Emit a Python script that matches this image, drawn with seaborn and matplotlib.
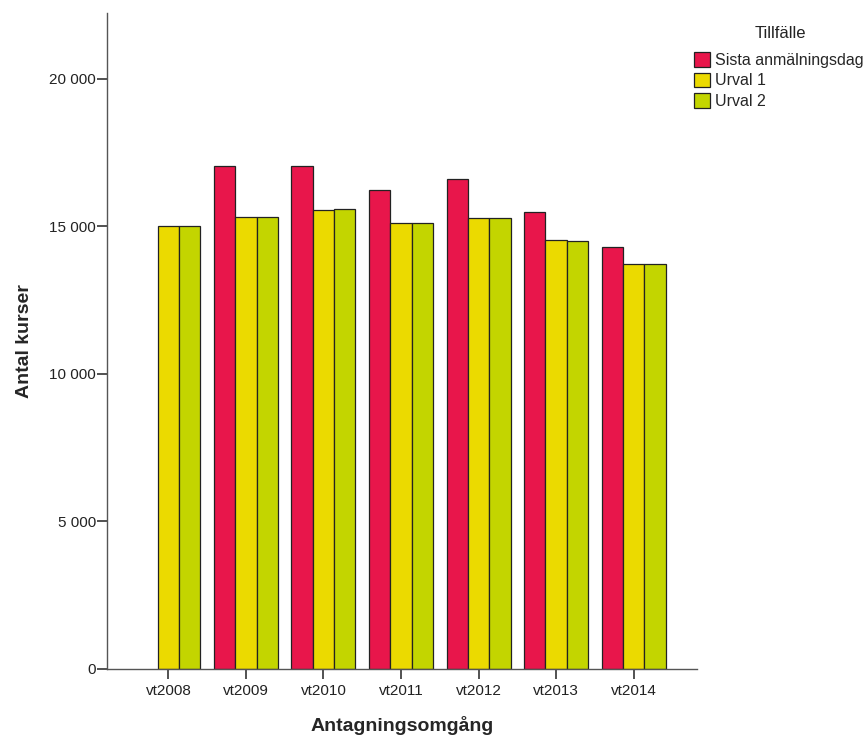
import pandas as pd
import numpy as np
import matplotlib
matplotlib.use('Agg')
import matplotlib.pyplot as plt
import matplotlib.ticker as mticker
import seaborn as sns

# Data
omgangar = ['vt2008', 'vt2009', 'vt2010', 'vt2011', 'vt2012', 'vt2013', 'vt2014']
sista_anmalningsdag = [np.nan, 17060, 17040, 16230, 16610, 15490, 14320]
urval_1 = [15010, 15330, 15570, 15120, 15280, 14530, 13720]
urval_2 = [15010, 15320, 15580, 15110, 15280, 14525, 13730]
tillfallen = ['Sista anmälningsdag', 'Urval 1', 'Urval 2']
farger = ['#E8164B', '#EBDA00', '#C3D500']

df = pd.DataFrame({
    'Antagningsomgång': omgangar * 3,
    'Tillfälle': [t for t in tillfallen for _ in omgangar],
    'Antal kurser': sista_anmalningsdag + urval_1 + urval_2,
})

sns.set_style('white')
plt.rcParams['font.family'] = ['Liberation Sans', 'DejaVu Sans']

fig = plt.figure(figsize=(8.64, 7.38), dpi=100)
ax = fig.add_axes([0.124, 0.0935, 0.683, 0.889])

sns.barplot(data=df, x='Antagningsomgång', y='Antal kurser', hue='Tillfälle',
            hue_order=tillfallen, order=omgangar, palette=farger, saturation=1,
            width=0.825, edgecolor='#222222', linewidth=0.9, ax=ax)

ax.set_ylim(0, 22240)
ax.set_xlim(-0.79, 6.82)
ax.set_yticks([0, 5000, 10000, 15000, 20000])
ax.yaxis.set_major_formatter(mticker.FuncFormatter(lambda v, p: f'{v:,.0f}'.replace(',', ' ')))

for s in ['top', 'right']:
    ax.spines[s].set_visible(False)
for s in ['left', 'bottom']:
    ax.spines[s].set_color('#555555')
    ax.spines[s].set_linewidth(1.0)

ax.tick_params(axis='both', which='major', direction='out', length=7, width=1.2,
               color='#333333', labelsize=11, labelcolor='#222222', left=True, bottom=True)
ax.tick_params(axis='y', pad=1)

ax.set_xlabel('Antagningsomgång', fontsize=14, fontweight='bold', labelpad=13)
ax.set_ylabel('Antal kurser', fontsize=14, fontweight='bold', labelpad=12)

handles, labels = ax.get_legend_handles_labels()
ax.legend(handles, labels, loc='upper left',
          bbox_to_anchor=(0.803, 0.929), bbox_transform=fig.transFigure,
          frameon=False, fontsize=11.5,
          handlelength=1.0, handleheight=1.0, handletextpad=0.3,
          labelspacing=0.3, borderaxespad=0, borderpad=0)
fig.text(780 / 864, 1 - 33 / 738, 'Tillfälle', ha='center', va='center',
         fontsize=12, color='#222222')

fig.savefig('out.png', dpi=100)
